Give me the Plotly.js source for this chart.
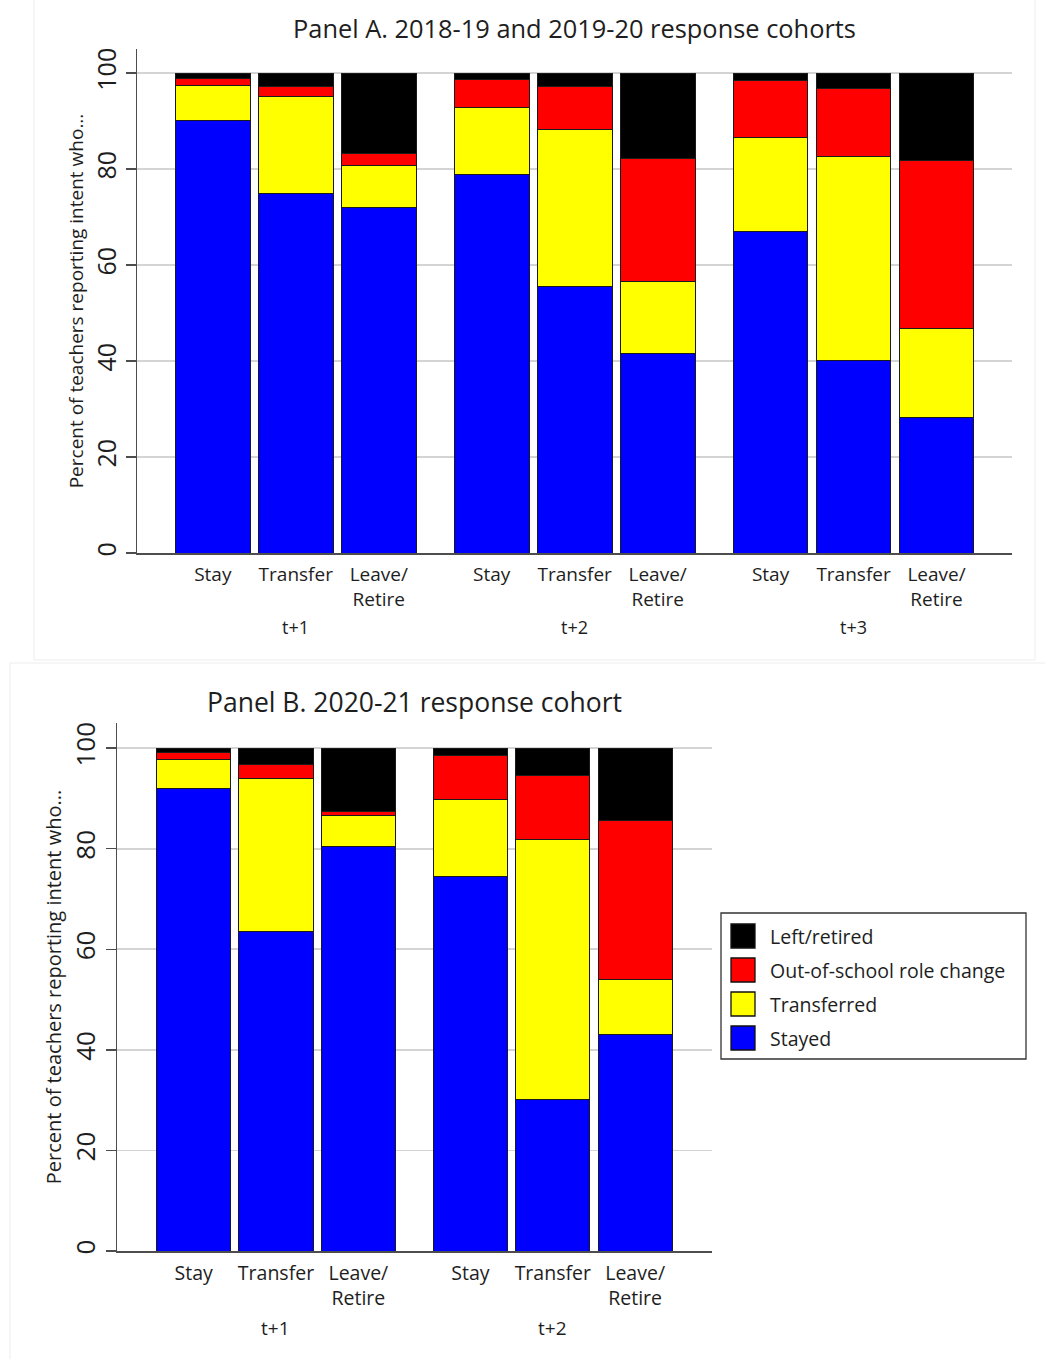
<!DOCTYPE html>
<html>
<head>
<meta charset="utf-8">
<script src="https://cdn.plot.ly/plotly-3.0.1.min.js"></script>
<style>
  html, body { margin: 0; padding: 0; background: #ffffff; }
  #chart { width: 1045px; height: 1359px; }
</style>
</head>
<body>
<div id="chart"></div>
<script>
// Intent categories (tick labels) and follow-up horizons (group labels)
const intents = ['Stay', 'Transfer', 'Leave/<br>Retire'];
const horizonsA = ['t+1', 't+2', 't+3'];
const horizonsB = ['t+1', 't+2'];

// Series names and colours, bottom of the stack first
const seriesNames = ['Stayed', 'Transferred', 'Out-of-school role change', 'Left/retired'];
const seriesColors = ['#0000ff', '#ffff00', '#ff0000', '#000000'];

// Panel A: 2018-19 and 2019-20 response cohorts (percent), ordered t+1, t+2, t+3 x intent
const stayedA      = [90.1, 75.0, 72.0, 78.9, 55.5, 41.6, 66.9, 40.2, 28.2];
const transferredA = [7.2, 20.1, 8.7, 14.0, 32.8, 14.9, 19.7, 42.4, 18.6];
const roleChangeA  = [1.5, 2.1, 2.6, 5.8, 8.8, 25.7, 11.8, 14.2, 35.0];
const leftA        = [1.2, 2.8, 16.7, 1.3, 2.9, 17.8, 1.6, 3.2, 18.2];

// Panel B: 2020-21 response cohort (percent), ordered t+1, t+2 x intent
const stayedB      = [91.9, 63.6, 80.4, 74.5, 30.1, 43.1];
const transferredB = [5.8, 30.4, 6.2, 15.3, 51.8, 10.8];
const roleChangeB  = [1.4, 2.8, 0.8, 8.7, 12.6, 31.7];
const leftB        = [0.9, 3.2, 12.6, 1.5, 5.5, 14.4];

const yTicks = [0, 20, 40, 60, 80, 100];

// ---- layout helpers (pixel -> paper) ----
const W = 1045, H = 1359;
const px = v => v / W;
const py = v => 1 - v / H;
const FONT = 'Open Sans, Noto Sans, sans-serif';
const TXT = '#1e1e1e';
const GROUP_STEP = 3.36;   // distance between first bars of adjacent groups

function positions(groups) {
  const xs = [], labels = [];
  groups.forEach((g, gi) => intents.forEach((c, ci) => {
    xs.push(gi * GROUP_STEP + ci);
    labels.push(c);
  }));
  return { xs, labels };
}
const posA = positions(horizonsA);
const posB = positions(horizonsB);

const dataA = [stayedA, transferredA, roleChangeA, leftA];
const dataB = [stayedB, transferredB, roleChangeB, leftB];

const traces = [];
seriesNames.forEach((name, s) => {
  const marker = { color: seriesColors[s], line: { color: '#1a1a1a', width: 1 } };
  traces.push({ type: 'bar', name, x: posA.xs, y: dataA[s], width: 0.9,
    marker, xaxis: 'x', yaxis: 'y', showlegend: false, hoverinfo: 'name+y' });
  traces.push({ type: 'bar', name, x: posB.xs, y: dataB[s], width: 0.9,
    marker, xaxis: 'x2', yaxis: 'y2', showlegend: false, hoverinfo: 'name+y' });
});

function xAxis(domain, range, pos, size, anchor) {
  return {
    domain, range, anchor,
    tickvals: pos.xs, ticktext: pos.labels,
    ticks: '', showgrid: false, zeroline: false, ticklabelstandoff: 4,
    showline: true, linecolor: '#4d4d4d', linewidth: 1.5,
    tickfont: { family: FONT, size, color: TXT },
    fixedrange: true
  };
}
function yAxis(domain, anchor, tickSize, titleSize, standoff) {
  return {
    domain, anchor, range: [0, 105],
    tickvals: yTicks, ticktext: yTicks.map(String),
    tickangle: -90, ticks: 'outside', ticklen: 10, tickwidth: 1.3, tickcolor: '#4d4d4d',
    showline: true, linecolor: '#4d4d4d', linewidth: 1.5,
    showgrid: true, gridcolor: '#d4d4d4', gridwidth: 1.6,
    zeroline: false,
    tickfont: { family: FONT, size: tickSize, color: TXT },
    title: { text: 'Percent of teachers reporting intent who...',
             font: { family: FONT, size: titleSize, color: TXT }, standoff },
    fixedrange: true
  };
}

const annotations = [];
horizonsA.forEach((h, gi) => annotations.push({
  text: h, xref: 'x', yref: 'paper', x: gi * GROUP_STEP + 1, y: py(627),
  showarrow: false, xanchor: 'center', yanchor: 'middle',
  font: { family: FONT, size: 18, color: TXT }
}));
horizonsB.forEach((h, gi) => annotations.push({
  text: h, xref: 'x2', yref: 'paper', x: gi * GROUP_STEP + 1, y: py(1328),
  showarrow: false, xanchor: 'center', yanchor: 'middle',
  font: { family: FONT, size: 19, color: TXT }
}));
annotations.push({
  text: 'Panel B. 2020-21 response cohort', xref: 'paper', yref: 'paper',
  x: px(414.5), y: py(702), showarrow: false, xanchor: 'center', yanchor: 'middle',
  font: { family: FONT, size: 26.5, color: TXT }
});

// Faint frames around the two panels
const shapes = [
  { type: 'rect', xref: 'paper', yref: 'paper', x0: px(34), x1: px(1035), y0: py(660), y1: py(-2),
    line: { color: '#ededed', width: 1 }, fillcolor: 'rgba(0,0,0,0)', layer: 'below' },
  { type: 'rect', xref: 'paper', yref: 'paper', x0: px(10), x1: px(1047), y0: py(1362), y1: py(663),
    line: { color: '#ededed', width: 1 }, fillcolor: 'rgba(0,0,0,0)', layer: 'below' }
];

// Legend box for panel B, listed top-down from the top of the stack
const legendTop = 936, legendStep = 34;
shapes.push({ type: 'rect', xref: 'paper', yref: 'paper',
  x0: px(721), x1: px(1026), y0: py(1059), y1: py(913),
  line: { color: '#333333', width: 1.3 }, fillcolor: '#ffffff' });
seriesNames.slice().reverse().forEach((name, k) => {
  const s = seriesNames.length - 1 - k;
  const cy = legendTop + k * legendStep;
  shapes.push({ type: 'rect', xref: 'paper', yref: 'paper',
    x0: px(731), x1: px(755), y0: py(cy + 12), y1: py(cy - 12),
    line: { color: '#111111', width: 1.3 }, fillcolor: seriesColors[s] });
  annotations.push({ text: name, xref: 'paper', yref: 'paper', x: px(768), y: py(cy),
    showarrow: false, xanchor: 'left', yanchor: 'middle',
    font: { family: FONT, size: 19.5, color: TXT } });
});

const layout = {
  width: W, height: H,
  margin: { l: 0, r: 0, t: 0, b: 0 },
  paper_bgcolor: '#ffffff', plot_bgcolor: 'rgba(0,0,0,0)',
  barmode: 'stack',
  showlegend: false,
  title: { text: 'Panel A. 2018-19 and 2019-20 response cohorts',
           x: px(574.5), y: py(29), xref: 'paper', yref: 'paper',
           xanchor: 'center', yanchor: 'middle',
           font: { family: FONT, size: 25.4, color: TXT } },
  xaxis:  xAxis([px(137), px(1012)], [-0.913, 9.629], posA, 19, 'y'),
  yaxis:  yAxis([py(553), py(49)], 'x', 25, 19, 0),
  xaxis2: xAxis([px(117), px(712)], [-0.93, 6.293], posB, 19.5, 'y2'),
  yaxis2: yAxis([py(1251), py(723)], 'x2', 26, 20, 0),
  annotations, shapes
};

Plotly.newPlot('chart', traces, layout, { displayModeBar: false, staticPlot: true });
</script>
</body>
</html>
